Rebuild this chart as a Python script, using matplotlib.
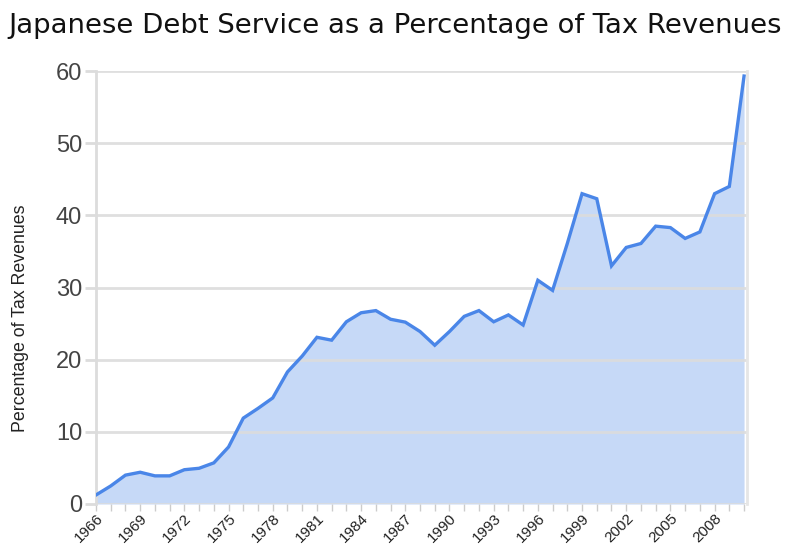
import matplotlib
matplotlib.use("Agg")
import matplotlib.pyplot as plt
from matplotlib.ticker import MultipleLocator

years = list(range(1966, 2011))
values = [1.25, 2.5, 4.0, 4.4, 3.9, 3.9, 4.75, 4.95, 5.7, 7.9,
          11.9, 13.25, 14.7, 18.3, 20.5, 23.1, 22.7, 25.25, 26.5, 26.8,
          25.6, 25.2, 23.9, 22.0, 23.9, 26.0, 26.8, 25.25, 26.2, 24.8,
          31.0, 29.6, 36.1, 43.0, 42.3, 33.0, 35.55, 36.1, 38.5, 38.3,
          36.8, 37.7, 43.0, 44.0, 59.3]
ytick_vals = [0, 10, 20, 30, 40, 50, 60]
xtick_years = list(range(1966, 2009, 3))

plt.rcParams['font.family'] = ['Liberation Sans', 'DejaVu Sans']

fig = plt.figure(figsize=(7.87, 5.45), dpi=100)
ax = fig.add_axes([96/787, 1 - 504/545, (747-96)/787, (504-71)/545])

line_c = '#4a86e8'
fill_c = '#c6d9f7'
grid_c = '#dcdcdc'

ax.fill_between(years, values, 0, color=fill_c, zorder=1, linewidth=0)
ax.plot(years, values, color=line_c, linewidth=2.4, zorder=3, solid_joinstyle='miter')

ax.set_xlim(1966, 2010.2)
ax.set_ylim(0, 60)
ax.set_yticks(ytick_vals)
ax.set_yticklabels([str(v) for v in ytick_vals], fontsize=17, color='#444444')
ax.set_xticks(xtick_years)
ax.set_xticklabels([str(y) for y in xtick_years], rotation=45, ha='right',
                   va='top', rotation_mode='anchor', fontsize=11, color='#222222')
ax.xaxis.set_minor_locator(MultipleLocator(1))

for v in ytick_vals:
    ax.axhline(v, color=grid_c, linewidth=2, zorder=2, alpha=0.9)

for s in ['top', 'bottom']:
    ax.spines[s].set_visible(False)
ax.spines['left'].set_color(grid_c)
ax.spines['left'].set_linewidth(2)
ax.spines['right'].set_color('#e6e6e6')
ax.spines['right'].set_linewidth(2)

ax.tick_params(axis='y', length=8, width=2, color=grid_c, pad=2)
ax.tick_params(axis='x', which='major', length=5, width=1, color='#cccccc', pad=0)
ax.tick_params(axis='x', which='minor', length=5, width=1, color='#cccccc')

ax.set_ylabel('Percentage of Tax Revenues', fontsize=12.8, color='#222222')
ax.yaxis.set_label_coords(-0.103, 0.43)

title = fig.text(8/787, 1 - 26/545, 'Japanese Debt Service as a Percentage of Tax Revenues',
                 fontsize=18, color='#111111', ha='left', va='center',
                 family=['DejaVu Sans'])
# fit title width to the reference span (x 8 .. 780 px)
fig.canvas.draw()
w = title.get_window_extent().width
title.set_fontsize(18 * 772 / w)

fig.savefig('out.png', dpi=100, facecolor='white')
